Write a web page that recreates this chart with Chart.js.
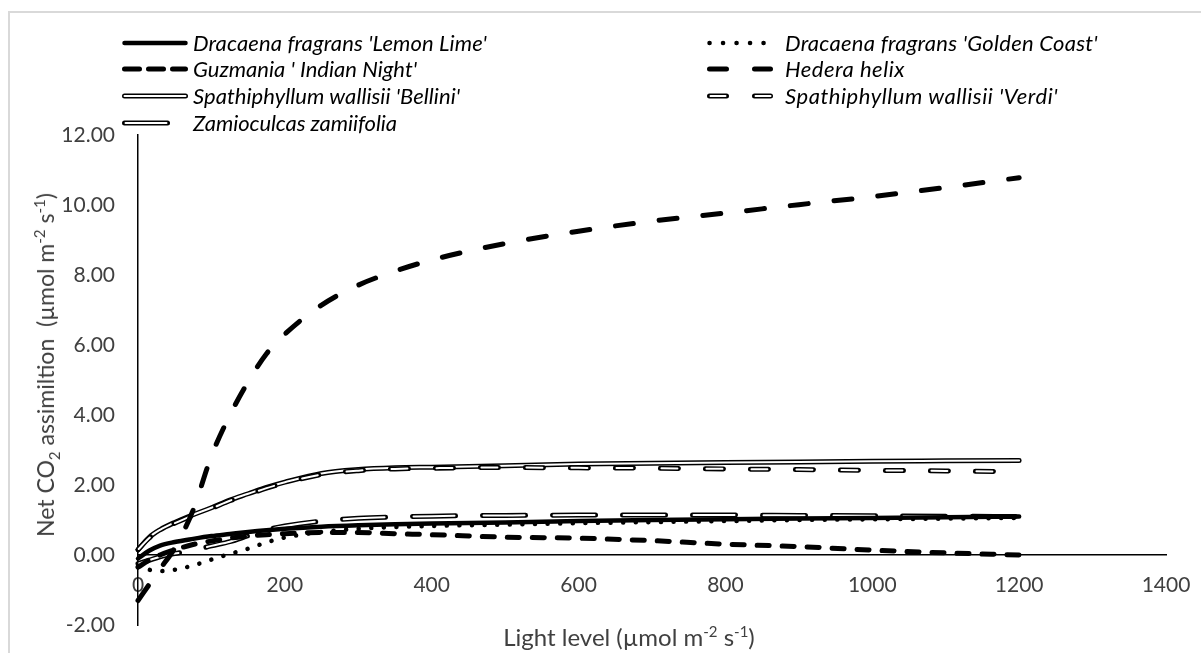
<!DOCTYPE html>
<html>
<head>
<meta charset="utf-8">
<script src="https://cdn.jsdelivr.net/npm/chart.js@4.4.1/dist/chart.umd.min.js"></script>
<style>
  body { margin: 0; background: #fff; font-family: Lato, 'Open Sans', sans-serif; }
  #wrap { position: relative; width: 1201px; height: 653px; overflow: hidden; background: #fff; }
  #frame { position: absolute; left: 8px; top: 11px; width: 1400px; height: 900px;
           border-top: 2px solid #d9d9d9; border-left: 2px solid #d9d9d9; }
  #chart { position: absolute; left: 0; top: 0; }
  .legText { position: absolute; font-style: italic; font-size: 22px; line-height: 24px; color: #000; white-space: nowrap; }
  .legLine { position: absolute; }
  .axTitle { position: absolute; font-size: 23px; line-height: 26px; color: #404040; white-space: nowrap; }
  .axTitle sup, .axTitle sub { font-size: 15px; line-height: 0; }
  #yTitle { left: 45px; top: 365px; transform: translate(-50%, -50%) rotate(-90deg); }
  #xTitle { left: 629px; top: 637px; font-size: 24px; transform: translate(-50%, -50%); }
</style>
</head>
<body>
<div id="wrap">
  <div id="frame"></div>
  <canvas id="chart" width="1201" height="653"></canvas>
  <div id="legend"></div>
  <div class="axTitle" id="yTitle">Net CO<sub>2</sub> assimiltion&nbsp; (µmol m<sup>-2</sup> s<sup>-1</sup>)</div>
  <div class="axTitle" id="xTitle">Light level (µmol m<sup>-2</sup> s<sup>-1</sup>)</div>
</div>
<script>
// light levels (µmol m-2 s-1) the curves are sampled at
const lightLevels = [0, 15, 30, 50, 75, 100, 125, 150, 175, 200, 250, 300, 350, 400, 500, 600, 700, 800, 900, 1000, 1100, 1200];

// net CO2 assimilation
const lemonLime   = [-0.10, 0.12, 0.27, 0.37, 0.46, 0.54, 0.60, 0.66, 0.71, 0.75, 0.81, 0.85, 0.88, 0.90, 0.93, 0.97, 1.00, 1.02, 1.04, 1.06, 1.08, 1.10];
const goldenCoast = [-0.30, -0.42, -0.46, -0.42, -0.30, -0.13, 0.03, 0.18, 0.36, 0.50, 0.66, 0.75, 0.80, 0.83, 0.87, 0.91, 0.94, 0.97, 1.00, 1.02, 1.04, 1.06];
const guzmania    = [-0.35, -0.15, 0.00, 0.15, 0.30, 0.40, 0.48, 0.54, 0.58, 0.61, 0.64, 0.64, 0.61, 0.58, 0.51, 0.48, 0.41, 0.31, 0.24, 0.14, 0.06, 0.00];
const hedera      = [-1.30, -0.85, -0.40, 0.20, 1.28, 2.83, 3.99, 4.95, 5.75, 6.31, 7.14, 7.71, 8.11, 8.43, 8.90, 9.25, 9.54, 9.77, 10.01, 10.24, 10.50, 10.78];
const bellini     = [0.15, 0.50, 0.72, 0.93, 1.15, 1.35, 1.57, 1.75, 1.93, 2.08, 2.33, 2.44, 2.49, 2.51, 2.55, 2.60, 2.62, 2.64, 2.66, 2.68, 2.69, 2.70];
const verdi       = [0.15, 0.48, 0.70, 0.91, 1.13, 1.33, 1.55, 1.73, 1.91, 2.06, 2.30, 2.41, 2.46, 2.48, 2.50, 2.49, 2.48, 2.46, 2.44, 2.42, 2.40, 2.38];
const zamioculcas = [-0.25, -0.15, -0.05, 0.04, 0.13, 0.26, 0.38, 0.55, 0.72, 0.83, 0.97, 1.05, 1.09, 1.11, 1.13, 1.14, 1.14, 1.14, 1.13, 1.12, 1.11, 1.10];

const seriesNames = [
  "Dracaena fragrans 'Lemon Lime'", "Dracaena fragrans 'Golden Coast'",
  "Guzmania ' Indian Night'", "Hedera helix",
  "Spathiphyllum wallisii 'Bellini'", "Spathiphyllum wallisii 'Verdi'",
  "Zamioculcas zamiifolia"
];
const seriesValues = [lemonLime, goldenCoast, guzmania, hedera, bellini, verdi, zamioculcas];

const xTicks = [0, 200, 400, 600, 800, 1000, 1200, 1400];
const yTicks = [-2, 0, 2, 4, 6, 8, 10, 12];

// line looks: width, dash in the plot, dash in the legend, hollow = white core
const lineStyles = [
  { width: 4.5, dash: [], legDash: [] },
  { width: 4.5, dash: [0.1, 12.5], legDash: [0.1, 13.4] },
  { width: 5, dash: [12, 13], legDash: [15, 9] },
  { width: 5, dash: [18, 26], legDash: [17, 28] },
  { width: 5, dash: [], legDash: [], hollow: true },
  { width: 5, dash: [18, 27], legDash: [17, 28], hollow: true },
  { width: 5, dash: [43, 27], legDash: [43, 27], hollow: true }
];
// higher = drawn later (on top)
const drawRank = [5, 4, 3, 6, 0, 1, 2];

Chart.defaults.font.family = "Lato, 'Open Sans', sans-serif";
Chart.defaults.font.size = 21;
Chart.defaults.color = '#404040';

var innerDash = function(d) {
  return d.length ? [d[0] - 2, d[1] + 2] : [];
};

const datasets = [];
seriesValues.forEach(function(vals, i) {
  const st = lineStyles[i];
  const pts = lightLevels.map(function(x, k) { return { x: x, y: vals[k] }; });
  datasets.push({
    label: seriesNames[i], data: pts,
    borderColor: '#000', borderWidth: st.width, borderDash: st.dash,
    order: (10 - drawRank[i]) * 2 + 1
  });
  if (st.hollow) {
    datasets.push({
      label: seriesNames[i] + ' core', data: pts,
      borderColor: '#fff', borderWidth: 2, borderDash: innerDash(st.dash), borderDashOffset: -1,
      order: (10 - drawRank[i]) * 2
    });
  }
});

new Chart(document.getElementById('chart'), {
  type: 'line',
  data: { datasets: datasets },
  options: {
    responsive: false,
    animation: false,
    devicePixelRatio: 1,
    layout: { padding: { left: 53, right: 35, top: 135, bottom: 28 } },
    plugins: { legend: { display: false }, tooltip: { enabled: false } },
    datasets: { line: { clip: false } },
    elements: {
      point: { radius: 0 },
      line: { borderCapStyle: 'round', borderJoinStyle: 'round', cubicInterpolationMode: 'monotone' }
    },
    scales: {
      x: {
        type: 'linear', min: 0, max: 1400,
        position: { y: 0 },
        grid: { display: false, drawTicks: false },
        border: { display: true, color: '#000', width: 1.5 },
        afterBuildTicks: function(s) { s.ticks = xTicks.map(function(v) { return { value: v }; }); },
        afterFit: function(s) { s.paddingLeft = 0; s.paddingRight = 0; },
        ticks: { padding: 18, maxRotation: 0, autoSkip: false, callback: function(v) { return String(v); } }
      },
      y: {
        type: 'linear', min: -2, max: 12,
        grid: { display: false, drawTicks: false },
        border: { display: true, color: '#000', width: 1.5 },
        afterFit: function(s) { s.width = 85; s.paddingTop = 0; s.paddingBottom = 0; },
        afterBuildTicks: function(s) { s.ticks = yTicks.map(function(v) { return { value: v }; }); },
        ticks: { padding: 23, callback: function(v) { return v.toFixed(2); } }
      }
    }
  }
});

// legend: two columns, drawn as svg samples + real text
const legend = document.getElementById('legend');
const colSvgLeft = [118, 703];
const colTextLeft = [193, 785];
const rowY = [42.5, 69, 95.5, 122.5];
// right edge each legend label reaches in the original (the fonts differ a little)
const legTextRight = [487, 1098, 417, 905, 460, 1058, 397];
seriesNames.forEach(function(name, i) {
  const st = lineStyles[i];
  const col = i % 2, row = Math.floor(i / 2);
  const yc = rowY[row];
  let svg = '<svg class="legLine" width="80" height="14" style="left:' + colSvgLeft[col] + 'px;top:' + (yc - 7) + 'px">';
  svg += '<line x1="6.5" y1="7" x2="67.5" y2="7" stroke="#000" stroke-width="' + st.width + '" stroke-linecap="round"' +
         (st.legDash.length ? ' stroke-dasharray="' + st.legDash.join(' ') + '"' : '') + '/>';
  if (st.hollow) {
    const d = innerDash(st.legDash);
    svg += '<line x1="6.5" y1="7" x2="67.5" y2="7" stroke="#fff" stroke-width="2" stroke-linecap="round"' +
           (d.length ? ' stroke-dasharray="' + d.join(' ') + '" stroke-dashoffset="-1"' : '') + '/>';
  }
  svg += '</svg>';
  legend.insertAdjacentHTML('beforeend', svg);
  const t = document.createElement('div');
  t.className = 'legText';
  t.style.left = colTextLeft[col] + 'px';
  t.style.top = (yc - 12) + 'px';
  t.textContent = name;
  legend.appendChild(t);
  // stretch the spacing so the label ends where the original one does
  const natural = t.getBoundingClientRect().width;
  const target = legTextRight[i] - colTextLeft[col];
  const ls = (target - natural) / name.length;
  if (Math.abs(ls) < 2) t.style.letterSpacing = ls.toFixed(2) + 'px';
});
</script>
</body>
</html>
